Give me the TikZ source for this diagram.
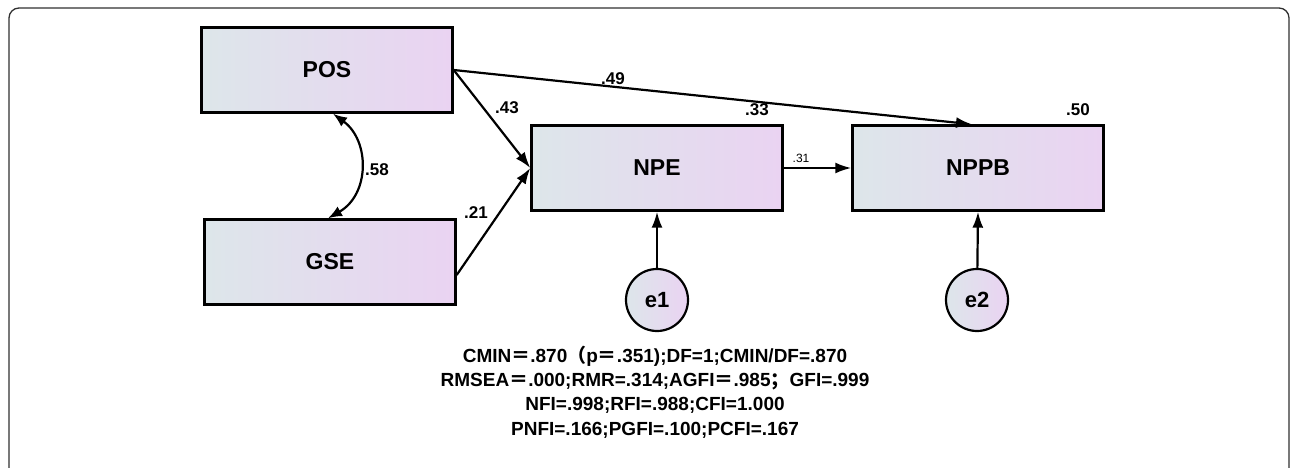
\documentclass[tikz,border=0pt]{standalone}
\usepackage{fontspec}
\setmainfont{Liberation Sans}
\newfontfamily\cjk{Noto Sans CJK SC}
\usetikzlibrary{arrows.meta}
\definecolor{boxleft}{HTML}{DDE6EA}
\definecolor{boxright}{HTML}{EAD3F2}
\definecolor{framegray}{HTML}{303030}

\begin{document}
\begin{tikzpicture}[x=1pt,y=-1pt,
    var/.style={draw,line width=2.4pt,left color=boxleft,right color=boxright,
        minimum width=251pt,minimum height=85pt,inner sep=0pt,
        font=\fontsize{23}{26}\selectfont\bfseries},
    err/.style={circle,draw,line width=2.2pt,left color=boxleft,right color=boxright,
        minimum size=62pt,inner sep=0pt,font=\fontsize{22}{26}\selectfont\bfseries},
    lnk/.style={-{Latex[length=16pt,width=11pt]},line width=2.2pt},
    coef/.style={font=\fontsize{17}{20}\selectfont\bfseries}]
    \useasboundingbox (0,0) rectangle (1292,468);
    % frame, open at the bottom
    \draw[framegray,line width=1.3pt,rounded corners=10pt]
        (9,475) -- (9,8) -- (1289,8) -- (1289,475);
    % observed variables
    \node[var] (POS)  at (327,70)  {POS};
    \node[var] (GSE)  at (330,262) {GSE};
    \node[var] (NPE)  at (657,168) {NPE};
    \node[var] (NPPB) at (978,168) {NPPB};
    % residuals
    \node[err] (e1) at (657,300) {e1};
    \node[err] (e2) at (977,300) {e2};
    % paths
    \draw[lnk] (POS.east) -- ([xshift=-6pt]NPPB.north);
    \draw[lnk] (POS.east) -- (NPE.west);
    \draw[lnk] ([yshift=-13pt]GSE.east) -- (NPE.west);
    \draw[lnk] (NPE.east) -- (NPPB.west);
    \draw[lnk] (e1) -- (NPE.south);
    \draw[lnk] (e2) -- (NPPB.south);
    % covariance
    \draw[lnk,{Latex[length=14pt,width=11pt]}-{Latex[length=14pt,width=11pt]}]
        ([xshift=6pt]POS.south) .. controls +(37,27) and +(42,-24) .. ([xshift=-2pt]GSE.north);
    % estimates
    \node[coef] (b49) at (613,79)  {.49};
    \node[coef] (b43) at (507,108) {.43};
    \node[coef] (b21) at (476,213) {.21};
    \node[coef] (r58) at (377,170) {.58};
    \node[coef] (s33) at (757,110) {.33};
    \node[coef] (s50) at (1078,110) {.50};
    \node[font=\fontsize{12}{14}\selectfont] (b31) at (801,158) {.31};
    % fit indices
    \node[align=center,font=\fontsize{19}{24.3}\selectfont\bfseries] (fit) at (655,392)
        {CMIN{\cjk＝}.870{\cjk（}p{\cjk＝}.351);DF=1;CMIN/DF=.870\\
         RMSEA{\cjk＝}.000;RMR=.314;AGFI{\cjk＝}.985{\cjk；}GFI=.999\\
         NFI=.998;RFI=.988;CFI=1.000\\
         PNFI=.166;PGFI=.100;PCFI=.167};
\end{tikzpicture}
\end{document}
